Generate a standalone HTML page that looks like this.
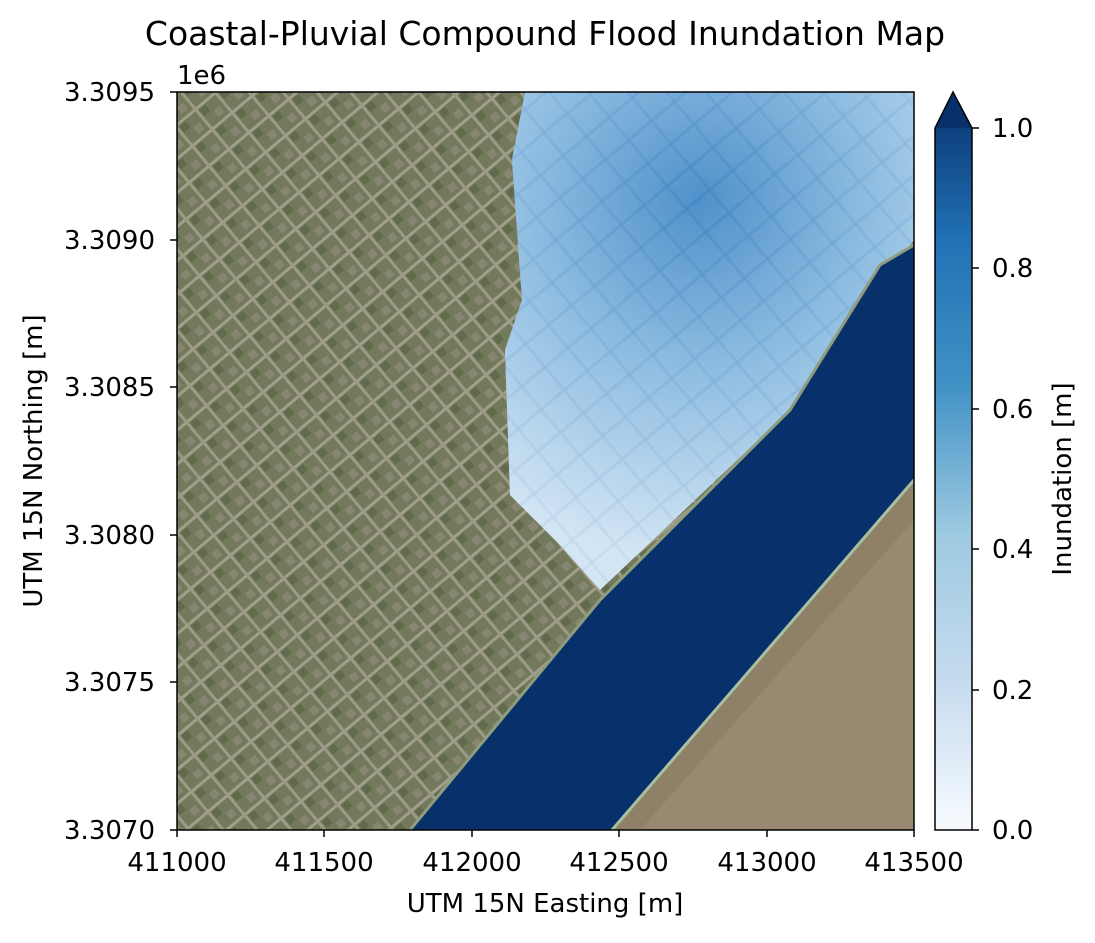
<!DOCTYPE html>
<html><head><meta charset="utf-8"><style>
body{margin:0;background:#fff;}
svg text{font-family:"DejaVu Sans","Liberation Sans",sans-serif;fill:#000;}
</style></head><body>
<svg width="1095" height="938" viewBox="0 0 1095 938" xmlns="http://www.w3.org/2000/svg">
<defs>
<pattern id="streets" width="26" height="26" patternUnits="userSpaceOnUse" patternTransform="rotate(-40)">
<rect width="26" height="26" fill="#6c7453"/>
<rect x="4" y="4" width="8" height="8" fill="#52613e"/>
<rect x="14" y="14" width="8" height="8" fill="#8a8774"/>
<rect x="0" y="0" width="26" height="3" fill="#aeab99"/>
<rect x="0" y="0" width="3" height="26" fill="#a8a592"/>
</pattern>
<pattern id="streets2" width="30" height="30" patternUnits="userSpaceOnUse" patternTransform="rotate(-40)">
<rect width="30" height="30" fill="#a6cbe8"/>
<rect x="0" y="0" width="30" height="3" fill="#2f6fb0" opacity="0.5"/>
<rect x="0" y="0" width="3" height="30" fill="#3a7ab8" opacity="0.5"/>
</pattern>
<radialGradient id="flood" cx="700" cy="200" r="360" gradientUnits="userSpaceOnUse">
<stop offset="0" stop-color="#3a82c2"/>
<stop offset="0.45" stop-color="#85b7de"/>
<stop offset="1" stop-color="#deecf7"/>
</radialGradient>
<linearGradient id="cb" x1="0" y1="1" x2="0" y2="0">
<stop offset="0" stop-color="#f7fbff"/>
<stop offset="0.2" stop-color="#c6dbef"/>
<stop offset="0.4" stop-color="#9ecae1"/>
<stop offset="0.6" stop-color="#4292c6"/>
<stop offset="0.8" stop-color="#2171b5"/>
<stop offset="1" stop-color="#08306b"/>
</linearGradient>
<clipPath id="ax"><rect x="177" y="92" width="737" height="738"/></clipPath>
</defs>
<text x="545" y="45" font-size="33" text-anchor="middle">Coastal-Pluvial Compound Flood Inundation Map</text>
<g clip-path="url(#ax)">
<rect x="177" y="92" width="737" height="738" fill="url(#streets)"/>
<rect x="177" y="92" width="737" height="738" fill="#85856c" opacity="0.3"/>
<polygon points="612,830 914,480 914,830" fill="#8f8068"/>
<polygon points="640,830 914,520 914,830" fill="#a08f76" opacity="0.6"/>
<polygon points="525,92 914,92 914,240 790,410 600,590 560,545 510,495 505,350 522,300 512,160" fill="url(#streets2)"/>
<polygon points="525,92 914,92 914,240 790,410 600,590 560,545 510,495 505,350 522,300 512,160" fill="url(#flood)" opacity="0.8"/>
<polygon points="410,830 612,830 914,480 914,245 880,265 790,410 600,600" fill="#08306b"/>
<path d="M612,830 L914,480" stroke="#a8bfa0" stroke-width="3" fill="none"/>
<path d="M410,830 L600,600 L790,410 L880,265 L914,245" stroke="#8e9d7d" stroke-width="3" fill="none"/>
</g>
<rect x="177" y="92" width="737" height="738" fill="none" stroke="#000" stroke-width="1.5"/>
<g font-size="26" text-anchor="middle">
<text x="177" y="871">411000</text><text x="324" y="871">411500</text><text x="472" y="871">412000</text>
<text x="619" y="871">412500</text><text x="767" y="871">413000</text><text x="914" y="871">413500</text>
</g>
<g stroke="#000" stroke-width="1.5">
<line x1="177" y1="830" x2="177" y2="837"/><line x1="324" y1="830" x2="324" y2="837"/><line x1="472" y1="830" x2="472" y2="837"/>
<line x1="619" y1="830" x2="619" y2="837"/><line x1="767" y1="830" x2="767" y2="837"/><line x1="914" y1="830" x2="914" y2="837"/>
<line x1="170" y1="92" x2="177" y2="92"/><line x1="170" y1="240" x2="177" y2="240"/><line x1="170" y1="387" x2="177" y2="387"/>
<line x1="170" y1="535" x2="177" y2="535"/><line x1="170" y1="682" x2="177" y2="682"/><line x1="170" y1="830" x2="177" y2="830"/>
</g>
<g font-size="26" text-anchor="end">
<text x="155" y="101">3.3095</text><text x="155" y="249">3.3090</text><text x="155" y="396">3.3085</text>
<text x="155" y="544">3.3080</text><text x="155" y="691">3.3075</text><text x="155" y="839">3.3070</text>
</g>
<text x="177" y="84" font-size="26">1e6</text>
<text x="545" y="912" font-size="26" text-anchor="middle">UTM 15N Easting [m]</text>
<text transform="translate(42,461) rotate(-90)" font-size="26" text-anchor="middle">UTM 15N Northing [m]</text>
<polygon points="935,830 935,128 953,92 972,128 972,830" fill="url(#cb)"/>
<polygon points="935,128 953,92 972,128" fill="#08306b"/>
<polygon points="935,830 935,128 953,92 972,128 972,830" fill="none" stroke="#000" stroke-width="1.5"/>
<g stroke="#000" stroke-width="1.5">
<line x1="972" y1="128" x2="979" y2="128"/><line x1="972" y1="268" x2="979" y2="268"/><line x1="972" y1="409" x2="979" y2="409"/>
<line x1="972" y1="549" x2="979" y2="549"/><line x1="972" y1="690" x2="979" y2="690"/><line x1="972" y1="830" x2="979" y2="830"/>
</g>
<g font-size="26">
<text x="992" y="137">1.0</text><text x="992" y="277">0.8</text><text x="992" y="418">0.6</text>
<text x="992" y="558">0.4</text><text x="992" y="699">0.2</text><text x="992" y="839">0.0</text>
</g>
<text transform="translate(1071,479) rotate(-90)" font-size="26" text-anchor="middle">Inundation [m]</text>
</svg>
</body></html>
